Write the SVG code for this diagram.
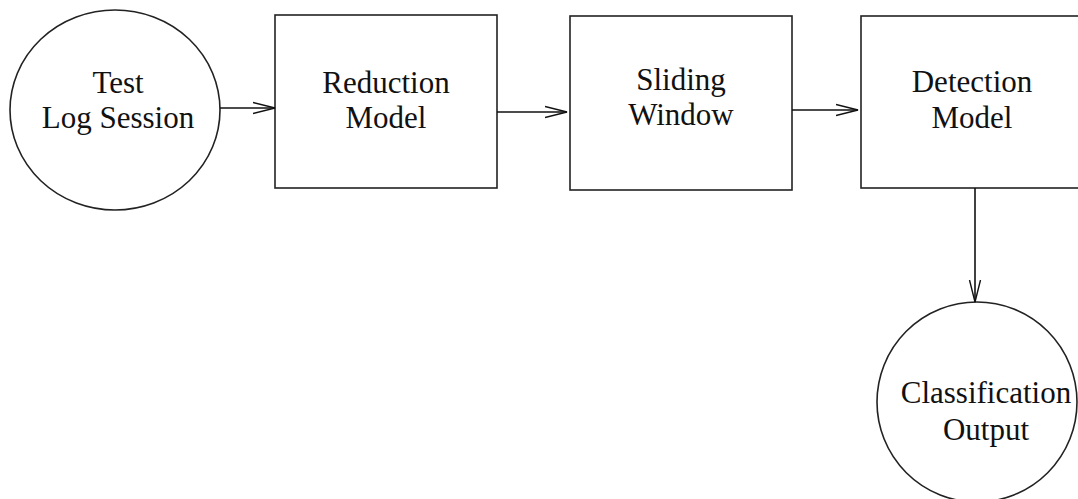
<svg xmlns="http://www.w3.org/2000/svg" width="1078" height="499" viewBox="0 0 1078 499">
<style>
.s{fill:#fff;stroke:#222;stroke-width:1.6}
.t{font-family:"Liberation Serif",serif;font-size:31px;fill:#111;text-anchor:middle}
.c{stroke:#111;stroke-width:1.6;fill:none}
</style>
<defs>
<marker id="a" markerWidth="24" markerHeight="14" refX="22" refY="7" orient="auto" markerUnits="userSpaceOnUse">
<path d="M0,1.5 L22,7 L0,12.5" fill="none" stroke="#111" stroke-width="1.4"/>
</marker>
</defs>
<rect width="1078" height="499" fill="#fff"/>
<g id="n1"><ellipse class="s" cx="115" cy="110" rx="105" ry="100"/><text class="t" x="118" y="93">Test</text><text class="t" x="118" y="128">Log Session</text></g>
<g id="n2"><rect class="s" x="275" y="15" width="222" height="173"/><text class="t" x="386" y="93">Reduction</text><text class="t" x="386" y="128">Model</text></g>
<g id="n3"><rect class="s" x="570" y="16" width="222" height="174"/><text class="t" x="681" y="90">Sliding</text><text class="t" x="681" y="125">Window</text></g>
<g id="n4"><rect class="s" x="861" y="16" width="230" height="172"/><text class="t" x="972" y="92">Detection</text><text class="t" x="972" y="128">Model</text></g>
<g id="n5"><ellipse class="s" cx="977" cy="402" rx="100" ry="100"/><text class="t" x="986" y="403">Classification</text><text class="t" x="986" y="440">Output</text></g>
<g id="edges">
<line class="c" x1="220" y1="108" x2="275" y2="108" marker-end="url(#a)"/>
<line class="c" x1="497" y1="112" x2="567" y2="112" marker-end="url(#a)"/>
<line class="c" x1="792" y1="110" x2="858" y2="110" marker-end="url(#a)"/>
<line class="c" x1="975" y1="188" x2="975" y2="302" marker-end="url(#a)"/>
</g>
</svg>
